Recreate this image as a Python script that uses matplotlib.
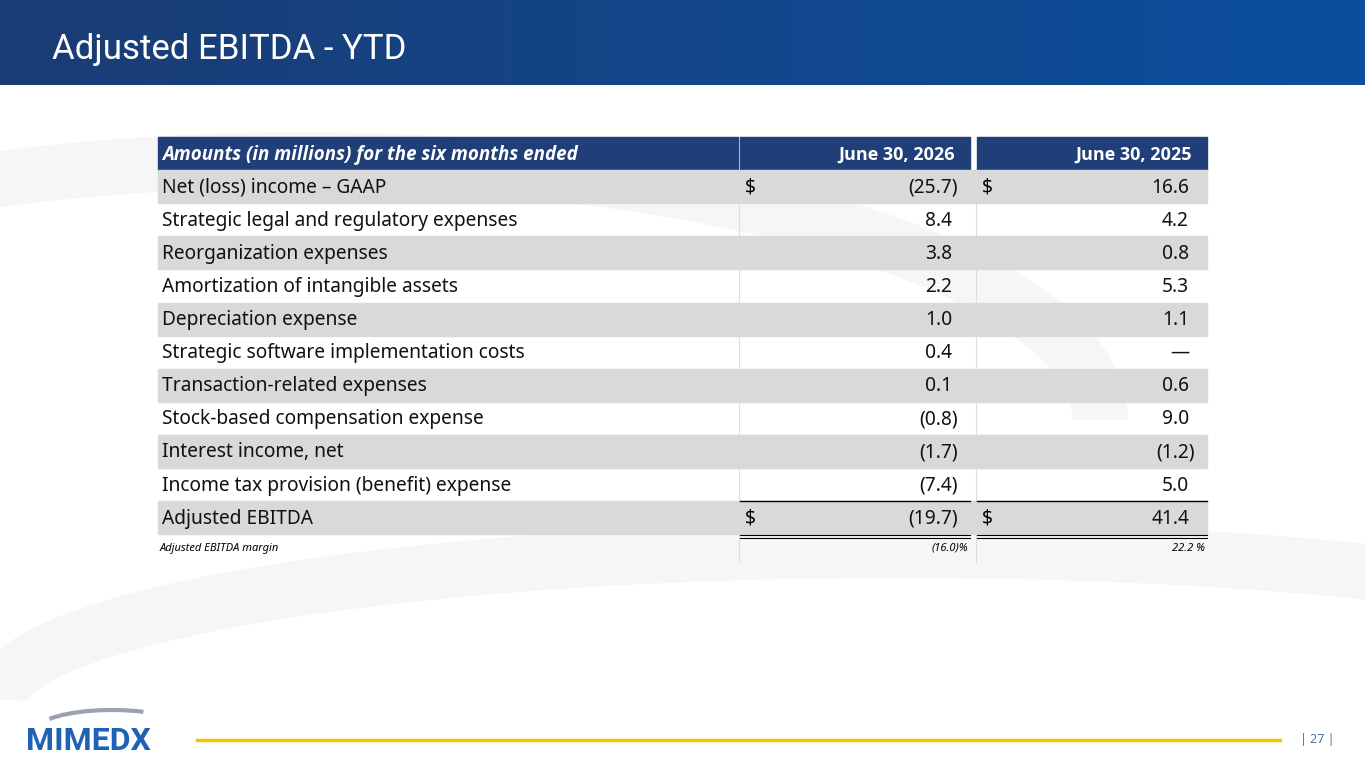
import numpy as np
import matplotlib.pyplot as plt
from matplotlib.patches import Rectangle, Arc
from matplotlib.colors import LinearSegmentedColormap

labels = ["Net (loss) income – GAAP", "Strategic legal and regulatory expenses",
          "Reorganization expenses", "Amortization of intangible assets",
          "Depreciation expense", "Strategic software implementation costs",
          "Transaction-related expenses", "Stock-based compensation expense",
          "Interest income, net", "Income tax provision (benefit) expense",
          "Adjusted EBITDA"]
col_2026 = ["(25.7)", "8.4", "3.8", "2.2", "1.0", "0.4", "0.1", "(0.8)", "(1.7)", "(7.4)", "(19.7)"]
col_2025 = ["16.6", "4.2", "0.8", "5.3", "1.1", "—", "0.6", "9.0", "(1.2)", "5.0", "41.4"]
dollar_rows = [0, 10]
margin = ["(16.0)%", "22.2 %"]
headers = ["Amounts (in millions) for the six months ended", "June 30, 2026", "June 30, 2025"]

fig = plt.figure(figsize=(13.65, 7.68), dpi=100)
ax = fig.add_axes([0, 0, 1, 1])
ax.set_xlim(0, 1365)
ax.set_ylim(768, 0)
ax.axis("off")

# faint background swooshes
for cx, cy, w, h in [(300, 420, 1600, 520), (900, 700, 1800, 300)]:
    ax.add_patch(Arc((cx, cy), w, h, theta1=180, theta2=360, color="#f6f6f6", lw=40))

# header banner gradient
grad = np.linspace(0, 1, 256).reshape(1, -1)
cm = LinearSegmentedColormap.from_list("b", ["#1b3c74", "#0b4f9e"])
ax.imshow(grad, extent=[0, 1365, 85, 0], cmap=cm, aspect="auto", zorder=1)
ax.text(52, 49, "Adjusted EBITDA - YTD", color="white", fontsize=25, family="Roboto",
        va="center", zorder=2)

font = ["Noto Sans", "DejaVu Sans"]
hfont = ["Open Sans", "DejaVu Sans"]
x0, x1, x2, x3 = 158, 740, 977, 1207
top, rh = 137, 33.1
fs = 13.8

# table header
ax.add_patch(Rectangle((x0, top), x1 - 2 - x0, rh, color="#203f78", zorder=2))
ax.add_patch(Rectangle((x1, top), 970 - x1, rh, color="#203f78", zorder=2))
ax.add_patch(Rectangle((x2, top), x3 - x2, rh, color="#203f78", zorder=2))
ax.text(162, top + rh / 2 + 1, headers[0], color="white", fontsize=13.5, style="italic",
        weight="bold", va="center", family=hfont, zorder=3)
ax.text(955, top + rh / 2 + 1, headers[1], color="white", fontsize=13, weight="bold",
        va="center", ha="right", family=hfont, zorder=3)
ax.text(1192, top + rh / 2 + 1, headers[2], color="white", fontsize=13, weight="bold",
        va="center", ha="right", family=hfont, zorder=3)

for i, lab in enumerate(labels):
    y = top + rh * (i + 1)
    if i % 2 == 0:
        ax.add_patch(Rectangle((x0, y), x3 - x0, rh, color="#d9d9d9", zorder=2))
    yc = y + rh / 2 + 1
    ax.text(162, yc, lab, fontsize=fs, va="center", family=font, color="#111111", zorder=3)
    for v, xr in [(col_2026[i], 958), (col_2025[i], 1195)]:
        xx = xr if v.endswith(")") else xr - 6
        ax.text(xx, yc, v, fontsize=fs, va="center", ha="right", family=font,
                color="#111111", zorder=3)
    if i in dollar_rows:
        ax.text(745, yc, "$", fontsize=fs, va="center", family=font, zorder=3)
        ax.text(982, yc, "$", fontsize=fs, va="center", family=font, zorder=3)

# vertical separators
ax.plot([739, 739], [top + rh, 562], color="#dddddd", lw=0.8, zorder=1.5)
ax.plot([976, 976], [top + rh, 562], color="#dddddd", lw=0.8, zorder=1.5)

# underline before total, double line after
ytot = top + rh * 11
for a, b in [(740, 970), (977, 1207)]:
    ax.plot([a, b], [ytot, ytot], color="black", lw=1, zorder=4)
    ax.plot([a, b], [ytot + rh + 1, ytot + rh + 1], color="black", lw=0.8, zorder=4)
    ax.plot([a, b], [ytot + rh + 4, ytot + rh + 4], color="black", lw=0.8, zorder=4)

ym = top + rh * 12 + 14
ax.text(160, ym, "Adjusted EBITDA margin", fontsize=8, style="italic", va="center", family=font)
ax.text(968, ym, margin[0], fontsize=8, style="italic", va="center", ha="right", family=font)
ax.text(1205, ym, margin[1], fontsize=8, style="italic", va="center", ha="right", family=font)

# footer
ax.add_patch(Arc((112, 730), 150, 40, theta1=190, theta2=330, color="#9aa3ad", lw=3))
ax.text(26, 741, "MIMEDX", fontsize=23, weight="bold", color="#1f62b5", va="center",
        family="Roboto")
ax.plot([197, 1280], [740, 740], color="#f4c400", lw=2.5)
ax.text(1317, 740, "| 27 |", fontsize=9, color="#4a6a9a", va="center", ha="center", family=hfont)

fig.savefig("out.png", dpi=100)
